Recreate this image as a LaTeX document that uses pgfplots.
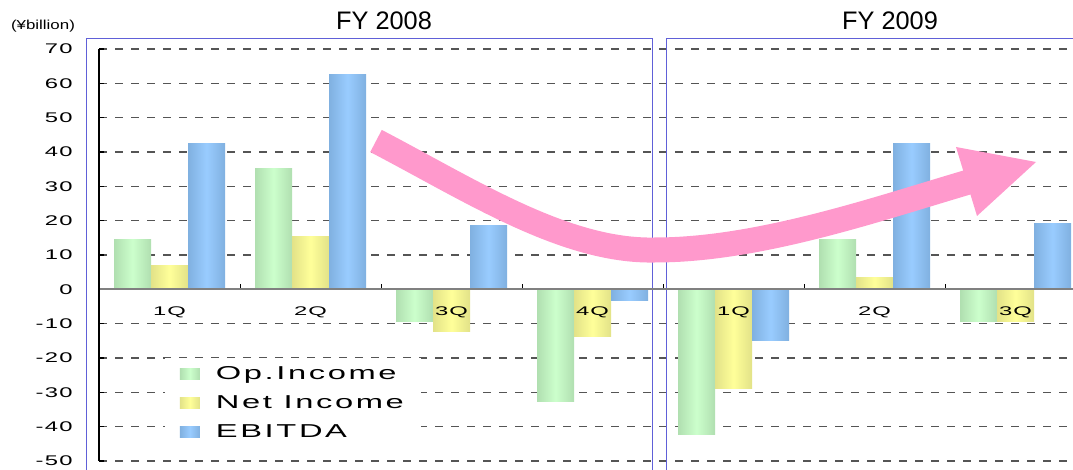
\documentclass[border=0pt]{standalone}
\usepackage{fontspec}
\setmainfont{Liberation Sans}
\newfontfamily\widefont[FakeStretch=1.7,LetterSpace=10]{Liberation Sans}
\newfontfamily\xfont[FakeStretch=1.9,LetterSpace=8]{Liberation Sans}
\newfontfamily\legfont[FakeStretch=1.75,LetterSpace=14]{Liberation Sans}
\newfontfamily\unitfont[FakeStretch=1.3]{Liberation Sans}
\usepackage{pgfplots}
\pgfplotsset{compat=1.18}
\usepackage{pgfplotstable}

\definecolor{gEdge}{HTML}{B0DFB0}
\definecolor{gMid}{HTML}{CCFFCC}
\definecolor{yEdge}{HTML}{E2E288}
\definecolor{yMid}{HTML}{FFFF99}
\definecolor{bEdge}{HTML}{80B0E0}
\definecolor{bMid}{HTML}{99CCFF}
\definecolor{frameblue}{HTML}{6060D8}
\definecolor{arrowpink}{HTML}{FF99CC}
\definecolor{gridgray}{HTML}{555555}
\definecolor{zerogray}{HTML}{808080}

% quarters: FY2008 1Q-4Q, FY2009 1Q-3Q (yen billion)
\pgfplotstableread{
x   op     net    ebitda
0   14.5   7.0    42.5
1   35.2   15.4   62.5
2   -9.4   -12.3  18.7
3   -32.8  -13.8  -3.3
4   -42.4  -28.8  -14.8
5   14.5   3.4    42.5
6   -9.5   -9.5   19.2
}\results

\pgfplotsset{
  layers/barsbelow/.define layer set={axis background,axis grid,main,axis ticks,axis lines,axis tick labels,axis descriptions,axis foreground}{
    grid style={/pgfplots/on layer=axis grid},
    tick style={/pgfplots/on layer=axis ticks},
    axis line style={/pgfplots/on layer=axis lines},
    ticklabel style={/pgfplots/on layer=axis tick labels},
    legend style={/pgfplots/on layer=axis descriptions},
    label style={/pgfplots/on layer=axis descriptions},
    title style={/pgfplots/on layer=axis descriptions},
  },
  mybar/.style={draw=none, legend image code/.code={\path[##1,draw=none] (0pt,-4.1pt) rectangle (15pt,4.1pt); \path (25pt,0pt);}},
  greenbar/.style={mybar, left color=gEdge, right color=gEdge, middle color=gMid},
  yellowbar/.style={mybar, left color=yEdge, right color=yEdge, middle color=yMid},
  bluebar/.style={mybar, left color=bEdge, right color=bEdge, middle color=bMid},
}

\begin{document}
\begin{tikzpicture}

% frames and headings (pixel units)
\begin{scope}[x=0.75pt,y=-0.75pt,shift={(0pt,352.5pt)}]
  \draw[frameblue, line width=1.3pt] (86.5,490) -- (86.5,38.5) -- (652.5,38.5) -- (652.5,490);
  \draw[frameblue, line width=1.3pt] (666.5,490) -- (666.5,38.5) -- (1090,38.5);
  \node[font=\fontsize{19pt}{21pt}\selectfont] at (384,21) {FY 2008};
  \node[font=\fontsize{19pt}{21pt}\selectfont] at (890,21) {FY 2009};
  \node[font=\unitfont\fontsize{9.75pt}{11pt}\selectfont] at (43,26) {(¥billion)};
\end{scope}

\begin{axis}[
    set layers=barsbelow,
    scale only axis,
    at={(74.25pt,6.75pt)}, anchor=south west,
    width=740.25pt, height=309pt,
    xmin=-0.5, xmax=6.5,
    ymin=-50, ymax=70,
    ybar=0pt, bar width=27.75pt,
    axis x line=middle, axis y line=left,
    axis line style={-},
    x axis line style={draw=zerogray, line width=1.6pt},
    y axis line style={draw=black, line width=1pt},
    hide obscured x ticks=false, hide obscured y ticks=false,
    xtick={0,...,6},
    xticklabels={1Q,2Q,3Q,4Q,1Q,2Q,3Q},
    minor xtick={0.5,1.5,...,5.5},
    major x tick style={draw=none},
    minor x tick style={draw=black, line width=0.6pt},
    tick align=inside,
    major tick length=3.75pt, minor tick length=3.75pt,
    ytick={-50,-40,...,70},
    yticklabels={-50,-40,-30,-20,-10,0,10,20,30,40,50,60,70},
    ytick style={draw=black, line width=0.8pt},
    ymajorgrids,
    grid style={draw=gridgray, line width=1.1pt, dash pattern=on 6pt off 6pt},
    yticklabel style={font=\widefont\fontsize{10.5pt}{12pt}\selectfont, anchor=east, inner sep=0pt, xshift=-19.5pt},
    xticklabel style={font=\xfont\fontsize{9.4pt}{11pt}\selectfont, anchor=center, inner sep=0pt, yshift=-17.5pt},
    legend style={at={(rel axis cs:0.0669,0.25)}, anchor=north west, draw=none, fill=white,
        inner xsep=11pt, inner ysep=4pt, row sep=6.6pt,
        font=\legfont\fontsize{14pt}{16pt}\selectfont},
    legend cell align=left,
]
% one plot per bar so that every bar gets its own shading
\pgfplotsinvokeforeach{0,...,6}{
  \addplot[greenbar, forget plot, bar shift=-27.75pt, restrict x to domain=#1:#1] table[x=x, y=op] {\results};
  \addplot[yellowbar, forget plot, bar shift=0pt, restrict x to domain=#1:#1] table[x=x, y=net] {\results};
  \addplot[bluebar, forget plot, bar shift=27.75pt, restrict x to domain=#1:#1] table[x=x, y=ebitda] {\results};
}
\addlegendimage{greenbar}
\addlegendentry{Op.Income}
\addlegendimage{yellowbar}
\addlegendentry{Net Income}
\addlegendimage{bluebar}
\addlegendentry{EBITDA}
\end{axis}

% pink trend arrow
\begin{scope}[x=0.75pt,y=-0.75pt,shift={(0pt,352.5pt)}]
  \draw[arrowpink, line width=18.75pt] (376,141) .. controls (470,190) and (565,252) .. (655,250)
        .. controls (760,250) and (880,208) .. (972,181);
  \fill[arrowpink] (956,147) -- (1036,162) -- (977,216) -- cycle;
\end{scope}

\pgfresetboundingbox
\useasboundingbox (0,0) rectangle (804.75pt,352.5pt);
\end{tikzpicture}
\end{document}
